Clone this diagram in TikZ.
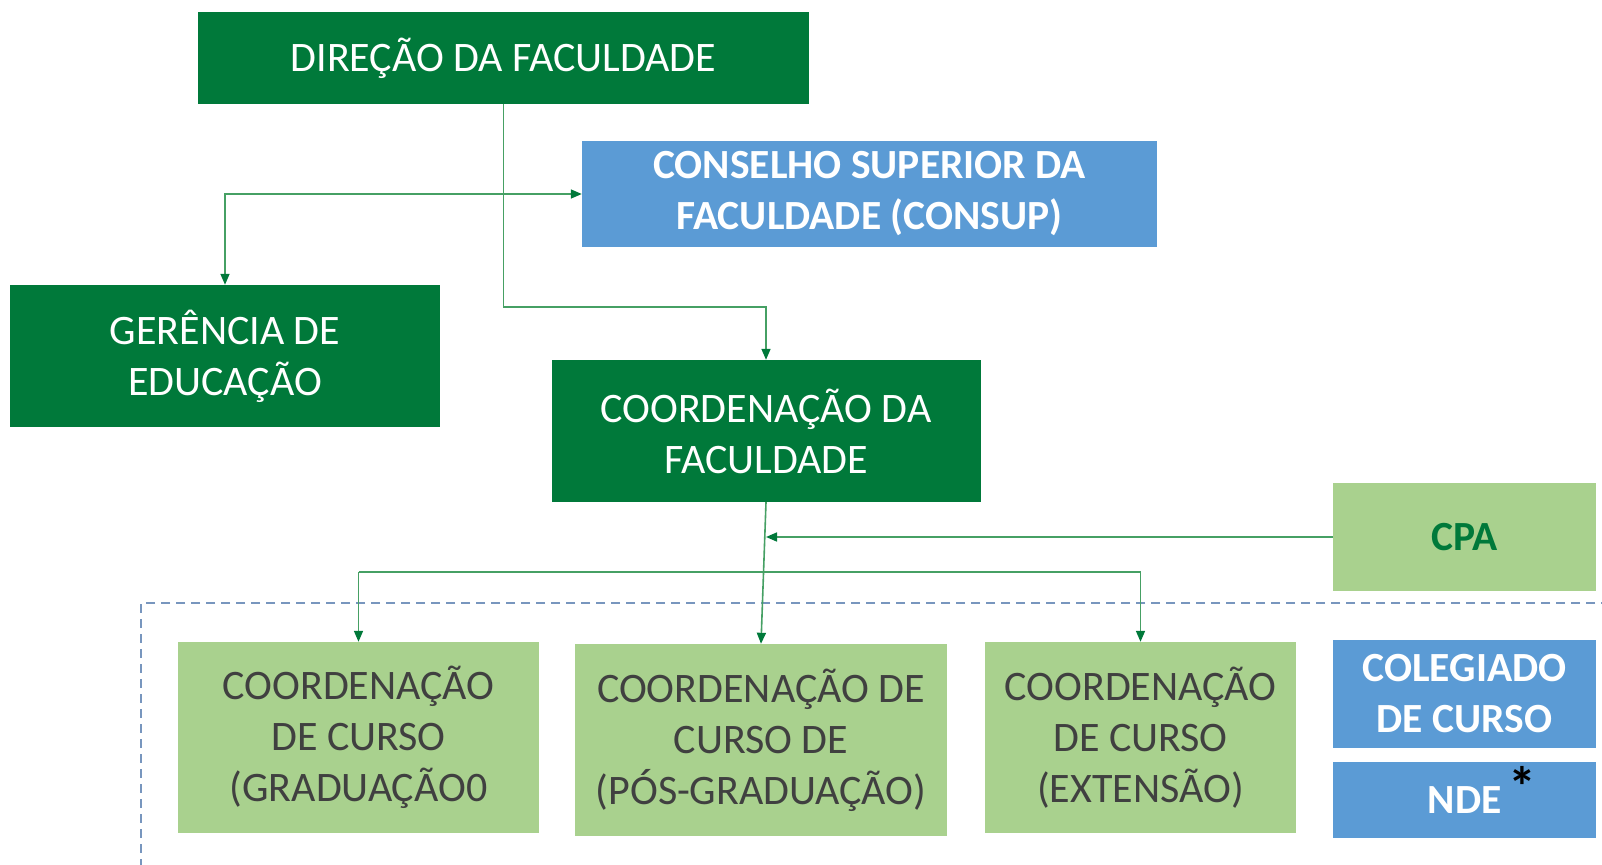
\documentclass[tikz,border=0pt]{standalone}
\usepackage{fontspec}
\setmainfont{Carlito}
\usetikzlibrary{arrows.meta}
\definecolor{dgreen}{RGB}{0,121,58}
\definecolor{lgreen}{RGB}{169,209,142}
\definecolor{sblue}{RGB}{91,155,213}
\definecolor{lcol}{RGB}{70,160,100}
\definecolor{dashcol}{RGB}{120,150,190}
\definecolor{gtext}{RGB}{64,64,64}
\tikzset{
  box/.style={rectangle, inner sep=0pt, align=center, font=\fontsize{42}{51}\selectfont},
  darkbox/.style={box, fill=dgreen, text=white},
  bluebox/.style={box, fill=sblue, text=white, font=\fontsize{41.5}{51}\selectfont\bfseries},
  lightbox/.style={box, fill=lgreen, text=gtext},
  conn/.style={draw=lcol, line width=1.6pt, -{Triangle[length=11pt,width=9pt,fill=dgreen,color=dgreen]}},
  plain/.style={draw=lcol, line width=1.6pt},
}
\begin{document}
\begin{tikzpicture}[x=1pt,y=-1pt]
\useasboundingbox (0,0) rectangle (1602,864);
\clip (0,0) rectangle (1602,864);
% dashed region
\draw[dashcol, line width=2pt, dash pattern=on 9pt off 6pt] (1610,603) -- (141,603) -- (141,875);
% nodes
\node[darkbox, minimum width=611pt, minimum height=92pt] (dir) at (503.5,58) {DIREÇÃO DA FACULDADE};
\node[bluebox, minimum width=575pt, minimum height=106pt] (cons) at (869.5,194) {CONSELHO SUPERIOR DA\\FACULDADE (CONSUP)};
\node[darkbox, minimum width=430pt, minimum height=142pt] (ger) at (225,356) {GERÊNCIA DE\\EDUCAÇÃO};
\node[darkbox, minimum width=429pt, minimum height=142pt] (cf) at (766,431) {COORDENAÇÃO DA\\FACULDADE};
\node[box, fill=lgreen, text=dgreen, font=\fontsize{41.5}{51}\selectfont\bfseries, minimum width=263pt, minimum height=108pt] (cpa) at (1464.5,537) {CPA};
\node[lightbox, minimum width=361pt, minimum height=191pt] (cg) at (358.5,737.5) {COORDENAÇÃO\\DE CURSO\\(GRADUAÇÃO0};
\node[lightbox, minimum width=372pt, minimum height=192pt] (cp) at (761,740) {COORDENAÇÃO DE\\CURSO DE\\(PÓS-GRADUAÇÃO)};
\node[lightbox, minimum width=311pt, minimum height=191pt] (ce) at (1140.5,737.5) {COORDENAÇÃO\\DE CURSO\\(EXTENSÃO)};
\node[bluebox, minimum width=263pt, minimum height=108pt] (col) at (1464.5,694) {COLEGIADO\\DE CURSO};
\node[bluebox, minimum width=263pt, minimum height=76pt] (nde) at (1464.5,800) {NDE\rlap{\hspace{7pt}\smash{\raisebox{7pt}{\color{black}\fontsize{56}{56}\selectfont *}}}};
% connectors
\coordinate (j1) at (dir.south |- cons.west);
\coordinate (j2) at (766,307);
\coordinate (bl) at (358.5,572);
\coordinate (br) at (1140.5,572);
\coordinate (jc) at (cf.south |- cpa.west);
\draw[plain] (dir.south) -- (j1);
\draw[conn] (j1) -- (cons.west);
\draw[conn] (j1) -| (ger.north);
\draw[conn] (j1) |- (j2) -- (cf.north);
\draw[conn] (cf.south) -- (cp.north);
\draw[plain] (bl) -- (br);
\draw[conn] (bl) -- (cg.north);
\draw[conn] (br) -- (ce.north);
\draw[conn] (cpa.west) -- (jc);
\end{tikzpicture}
\end{document}
